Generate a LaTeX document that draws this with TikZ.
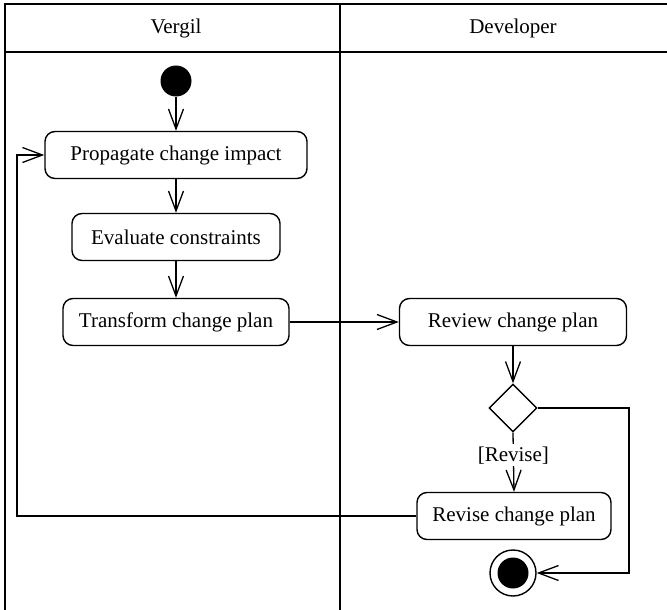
\documentclass[tikz,border=0pt]{standalone}
\usepackage{fontspec}
\setmainfont{Liberation Serif}
\usetikzlibrary{arrows.meta,shapes.geometric}

\begin{document}
\begin{tikzpicture}[x=1pt,y=-1pt,
  txt/.style={font=\fontsize{21}{25}\selectfont},
  lane/.style={line width=1.8pt},
  action/.style={txt, draw, line width=1.4pt, rounded corners=10pt,
    minimum height=47pt, inner sep=0pt},
  decision/.style={draw, diamond, aspect=1, line width=1.4pt,
    minimum width=48pt, minimum height=48pt, inner sep=0pt},
  flow/.style={line width=1.3pt, -{Straight Barb[length=20pt,width=15pt]}},
  guard/.style={txt, fill=white, inner sep=2pt}
]
\useasboundingbox (0,0) rectangle (667,610);
\clip (0,0) rectangle (667,610);

% swimlane frame
\draw[lane] (672,4) -- (5,4) -- (5,615);
\draw[lane] (5,52) -- (672,52);
\draw[lane] (340,4) -- (340,615);
\node[txt] (laneV) at (176,28) {Vergil};
\node[txt] (laneD) at (513,28) {Developer};

% nodes
\node[circle, fill=black, minimum size=31pt, inner sep=0pt] (init) at (176,81) {};
\node[action, minimum width=262pt] (prop) at (176,155) {Propagate change impact};
\node[action, minimum width=208pt] (eval) at (176,237) {Evaluate constraints};
\node[action, minimum width=226pt] (trans) at (176,322) {Transform change plan};
\node[action, minimum width=227pt] (review) at (513,322) {Review change plan};
\node[decision] (dec) at (513,408) {};
\node[action, minimum width=194pt] (revise) at (514,516) {Revise change plan};
\node[circle, draw, line width=1.4pt, minimum size=46pt, inner sep=0pt] (final) at (513,573) {};
\node[circle, fill=black, minimum size=31pt, inner sep=0pt] (finalin) at (final.center) {};

\coordinate (loopx) at (17,0);
\coordinate (exitx) at (629,0);

% connectors
\draw[flow] (init) -- (prop);
\draw[flow] (prop) -- (eval);
\draw[flow] (eval) -- (trans);
\draw[flow] (trans) -- (review);
\draw[flow] (review) -- (dec);
\draw[flow] (dec.south) -- node[guard, pos=0.38] (lbl) {[Revise]} (revise.north);
\draw[flow] (dec.east) -| (exitx |- final.east) -- (final.east);
\draw[flow] (revise.west) -| (loopx |- prop.west) -- (prop.west);
\end{tikzpicture}
\end{document}
